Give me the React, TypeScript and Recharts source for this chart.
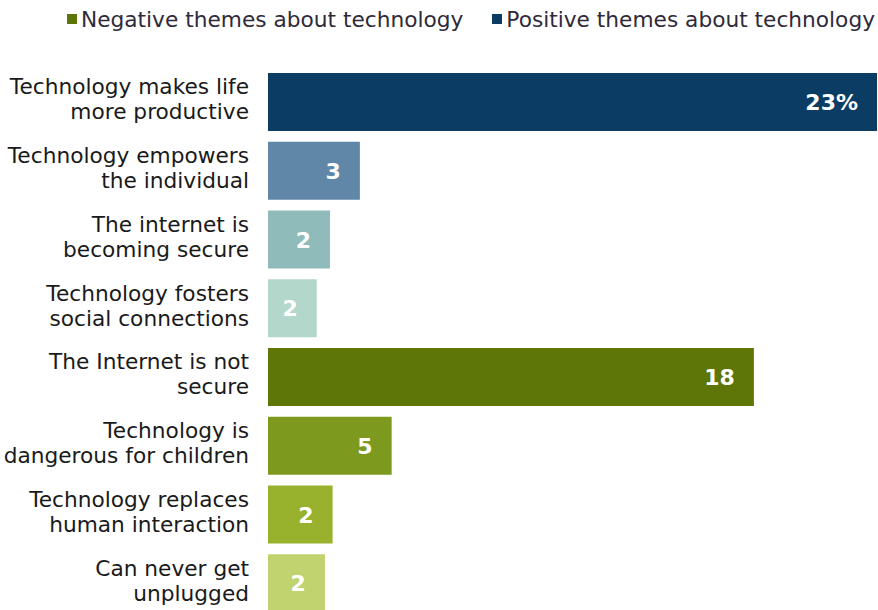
import React from 'react'
import { BarChart, Bar, XAxis, YAxis, Cell, LabelList } from 'recharts'

const categories = [
  ['Technology makes life', 'more productive'],
  ['Technology empowers', 'the individual'],
  ['The internet is', 'becoming secure'],
  ['Technology fosters', 'social connections'],
  ['The Internet is not', 'secure'],
  ['Technology is', 'dangerous for children'],
  ['Technology replaces', 'human interaction'],
  ['Can never get', 'unplugged'],
]
const values = [23, 3.47, 2.34, 1.84, 18.35, 4.67, 2.44, 2.15]
const barColors = ['#0a3c64', '#6087a8', '#8fbbbb', '#b4d7cb', '#5e7508', '#7e9a1e', '#99b22e', '#c1d36e']
const legendItems = [
  { label: 'Negative themes about technology', color: '#5e7508' },
  { label: 'Positive themes about technology', color: '#0a3c64' },
]

const data = categories.map((lines, i) => ({ name: lines.join(' '), lines, value: values[i] }))

const font = 'DejaVu Sans, Verdana, sans-serif'

const CategoryTick = (props: any) => {
  const { x, y, index } = props
  const lines: string[] = data[index]?.lines ?? []
  return (
    <text x={x - 11} y={y} textAnchor="end" fontFamily={font} fontSize={21.7} fill="#1a1a1a">
      {lines.map((l, i) => (
        <tspan key={i} x={x - 11} dy={i === 0 ? -8 : 25}>{l}</tspan>
      ))}
    </text>
  )
}

const ValueLabel = (props: any) => {
  const { x, y, width, height, value, index } = props
  const txt = index === 0 ? `${Math.round(value)}%` : `${Math.round(value)}`
  return (
    <text x={x + width - 19} y={y + height / 2} dy={8} textAnchor="end"
      fontFamily={font} fontSize={22} fontWeight="bold" fill="#ffffff">
      {txt}
    </text>
  )
}

function ChartLegend() {
  return (
    <div style={{ position: 'absolute', top: 7, right: 3, height: 24, display: 'flex', alignItems: 'center',
      fontFamily: font, fontSize: 21.7, color: '#2f2a3a', whiteSpace: 'nowrap' }}>
      {legendItems.map((item, i) => (
        <div key={item.label} style={{ display: 'flex', alignItems: 'center', marginLeft: i === 0 ? 0 : 29 }}>
          <span style={{ display: 'inline-block', width: 10, height: 10, background: item.color, marginRight: 4 }} />
          <span>{item.label}</span>
        </div>
      ))}
    </div>
  )
}

export default function App() {
  return (
    <div style={{ position: 'absolute', top: 0, left: 0, width: 878, height: 610, overflow: 'hidden', background: '#fff' }}>
      <BarChart width={878} height={620} data={data} layout="vertical"
        margin={{ top: 68, right: 1, bottom: 2, left: 0 }}>
        <XAxis type="number" domain={[0, 23]} hide />
        <YAxis type="category" dataKey="name" width={268} axisLine={false} tickLine={false}
          tick={<CategoryTick />} interval={0} />
        <Bar dataKey="value" barSize={58} isAnimationActive={false}>
          {data.map((_, i) => <Cell key={i} fill={barColors[i]} />)}
          <LabelList dataKey="value" content={<ValueLabel />} />
        </Bar>
      </BarChart>
      <ChartLegend />
    </div>
  )
}
